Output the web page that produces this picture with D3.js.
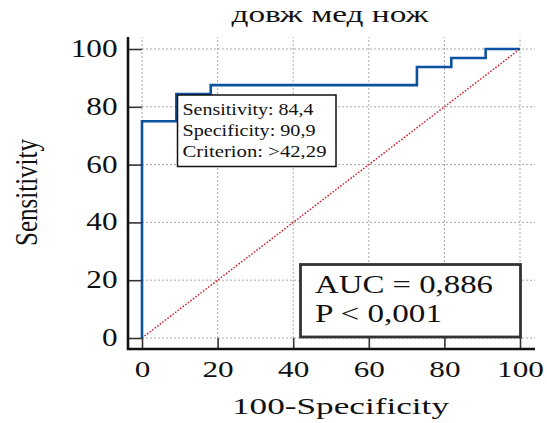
<!DOCTYPE html>
<html>
<head>
<meta charset="utf-8">
<script src="https://cdn.jsdelivr.net/npm/d3@7"></script>
<style>
  body { margin: 0; background: #fff; }
  svg { display: block; }
  text { font-family: "Liberation Serif", "Times New Roman", serif; fill: #111; }
</style>
</head>
<body>
<svg id="chart" width="547" height="423"></svg>
<script>
// ROC curve corners (100-Specificity, Sensitivity)
const fpr  = [0, 0, 9.09, 9.09, 18.18, 18.18, 72.73, 72.73, 81.82, 81.82, 90.91, 90.91, 100];
const sens = [0, 75, 75, 84.38, 84.38, 87.5, 87.5, 93.75, 93.75, 96.88, 96.88, 100, 100];
const diagonal = [0, 100];

const xTicks = [0, 20, 40, 60, 80, 100];
const yTicks = [0, 20, 40, 60, 80, 100];

const title = "довж мед нож";
const xTitle = "100-Specificity";
const yTitle = "Sensitivity";
const criterionLines = ["Sensitivity: 84,4", "Specificity: 90,9", "Criterion: >42,29"];
const criterionWidths = [131, 133, 144];
const statLines = ["AUC = 0,886", "P < 0,001"];
const statWidths = [178, 127];

const svg = d3.select("#chart");

const x = d3.scaleLinear().domain([0, 100]).range([142, 520]);
const y = d3.scaleLinear().domain([0, 100]).range([338, 49]);

// frame edges
const frameL = 128, frameB = 349, frameT = 37, frameR = 535;
const digitW = 15.6;

// grid
const grid = svg.append("g")
  .attr("stroke", "#aaa")
  .attr("stroke-width", 1)
  .attr("stroke-dasharray", "2,2");

grid.selectAll(".h")
  .data(yTicks)
  .join("line")
  .attr("x1", x(0)).attr("x2", frameR)
  .attr("y1", d => y(d)).attr("y2", d => y(d));

grid.selectAll(".v")
  .data(xTicks)
  .join("line")
  .attr("x1", d => x(d)).attr("x2", d => x(d))
  .attr("y1", y(0)).attr("y2", frameT);

// reference diagonal
svg.append("line")
  .attr("x1", x(diagonal[0])).attr("y1", y(diagonal[0]))
  .attr("x2", x(diagonal[1])).attr("y2", y(diagonal[1]))
  .attr("stroke", "#cc1a22")
  .attr("stroke-width", 1.4)
  .attr("stroke-dasharray", "1.6,1.6");

// ROC curve
const line = d3.line()
  .x((d, i) => x(fpr[i]))
  .y((d, i) => y(sens[i]));

svg.append("path")
  .datum(fpr)
  .attr("d", line)
  .attr("fill", "none")
  .attr("stroke", "#0d52a0")
  .attr("stroke-width", 2.6)
  .attr("stroke-linejoin", "miter");

// axes
const minor = d3.range(0, 101, 5).filter(v => v % 20 !== 0);

const xAxis = svg.append("g").attr("transform", `translate(0,${frameB})`);
xAxis.call(d3.axisBottom(x).tickValues(minor).tickSizeInner(-6).tickSizeOuter(0).tickFormat(""));
xAxis.call(d3.axisBottom(x).tickValues(xTicks).tickSizeInner(-11).tickSizeOuter(0).tickPadding(12));

const yAxis = svg.append("g").attr("transform", `translate(${frameL},0)`);
yAxis.call(d3.axisLeft(y).tickValues(minor).tickSizeInner(-7).tickSizeOuter(0).tickFormat(""));
yAxis.call(d3.axisLeft(y).tickValues(yTicks).tickSizeInner(-14).tickSizeOuter(0).tickPadding(10.5));

svg.selectAll(".domain").remove();
svg.selectAll(".tick line").attr("stroke", "#333").attr("stroke-width", 1.6);

xAxis.selectAll(".tick text")
  .attr("dy", null)
  .attr("y", 377 - frameB)
  .attr("font-size", 24)
  .attr("fill", "#111")
  .attr("textLength", d => String(d).length * digitW)
  .attr("lengthAdjust", "spacingAndGlyphs");

yAxis.selectAll(".tick text")
  .attr("dy", 7.5)
  .attr("font-size", 24.5)
  .attr("fill", "#111")
  .attr("textLength", d => String(d).length * digitW)
  .attr("lengthAdjust", "spacingAndGlyphs");

// axis lines
svg.append("path")
  .attr("d", `M${frameL},${frameT}V${frameB}H${frameR}`)
  .attr("fill", "none")
  .attr("stroke", "#111")
  .attr("stroke-width", 2.6);

// titles
svg.append("text")
  .attr("x", 330).attr("y", 22)
  .attr("text-anchor", "middle")
  .attr("font-size", 24)
  .attr("textLength", 197)
  .attr("lengthAdjust", "spacingAndGlyphs")
  .text(title);

svg.append("text")
  .attr("x", 340.5).attr("y", 413.5)
  .attr("text-anchor", "middle")
  .attr("font-size", 23.5)
  .attr("textLength", 217)
  .attr("lengthAdjust", "spacingAndGlyphs")
  .text(xTitle);

svg.append("text")
  .attr("transform", "translate(37,192.5) scale(1.3,1) rotate(-90)")
  .attr("text-anchor", "middle")
  .attr("font-size", 25)
  .text(yTitle);

// criterion box
const box1 = svg.append("g");
box1.append("rect")
  .attr("x", 177.5).attr("y", 95)
  .attr("width", 158.5).attr("height", 71.5)
  .attr("fill", "#fff")
  .attr("stroke", "#111")
  .attr("stroke-width", 1.5);
box1.selectAll("text")
  .data(criterionLines)
  .join("text")
  .attr("x", 182.5)
  .attr("y", (d, i) => 115 + i * 21)
  .attr("font-size", 16.5)
  .attr("textLength", (d, i) => criterionWidths[i])
  .attr("lengthAdjust", "spacingAndGlyphs")
  .text(d => d);

// AUC box
const box2 = svg.append("g");
box2.append("rect")
  .attr("x", 300.5).attr("y", 264.5)
  .attr("width", 220).attr("height", 72.5)
  .attr("fill", "#fff")
  .attr("stroke", "#333")
  .attr("stroke-width", 2.8);
box2.selectAll("text")
  .data(statLines)
  .join("text")
  .attr("x", 315)
  .attr("y", (d, i) => 292.5 + i * 29)
  .attr("font-size", 24.5)
  .attr("textLength", (d, i) => statWidths[i])
  .attr("lengthAdjust", "spacingAndGlyphs")
  .text(d => d);
</script>
</body>
</html>
